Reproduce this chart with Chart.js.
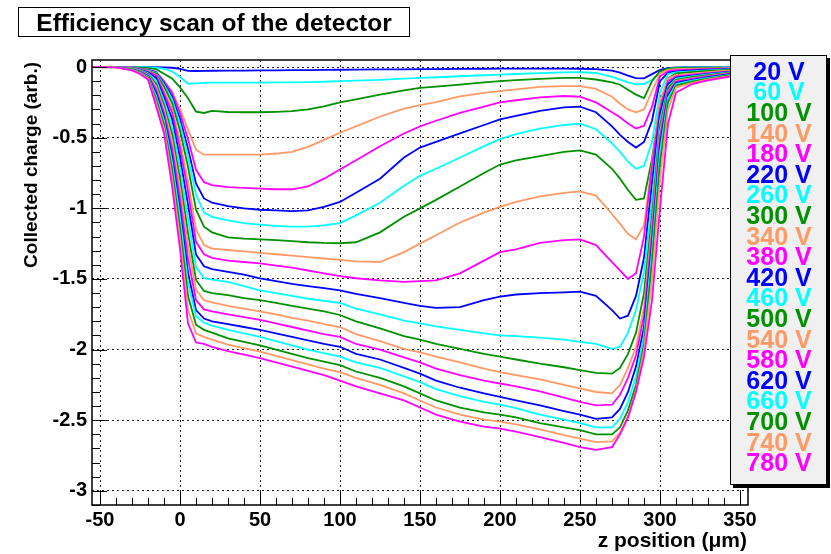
<!DOCTYPE html>
<html lang="en">
<head>
<meta charset="UTF-8">
<title>Efficiency scan of the detector</title>
<script src="https://cdn.jsdelivr.net/npm/chart.js@4"></script>
<style>
    body {
        margin: 0;
        background: #fff;
    }

    canvas {
        display: block;
    }
</style>
</head>
<body>
<canvas id="scan" width="831" height="554"></canvas>
<script>
    const zPos = [-55, -40, -30, -25, -20, -15, -10, -5, 0, 5, 10, 15,
        20, 30, 40, 50, 60, 70, 80, 90, 100, 110,
        125, 140, 150, 160, 175, 190, 200, 210, 225, 240, 250, 260,
        270, 275, 280, 285, 290, 295, 300, 305, 310, 320, 330, 340, 355];

    const voltages = [20, 60, 100, 140, 180, 220, 260, 300, 340, 380, 420, 460, 500, 540, 580, 620, 660, 700, 740, 780];

    const xTicks = [-50, 0, 50, 100, 150, 200, 250, 300, 350];
    const yTicks = [0, -0.5, -1, -1.5, -2, -2.5, -3];

    // collected charge per bias voltage
    const q20 = [0, 0, 0, 0, 0, -0.001, -0.002, -0.005, -0.013, -0.027, -0.028, -0.027,
        -0.026, -0.025, -0.025, -0.024, -0.023, -0.022, -0.021, -0.02, -0.019, -0.018,
        -0.017, -0.016, -0.015, -0.014, -0.013, -0.012, -0.011, -0.011, -0.011, -0.011, -0.012, -0.015,
        -0.025, -0.04, -0.06, -0.078, -0.08, -0.05, -0.02, -0.008, -0.003, -0.001, 0, 0, 0];
    const q60 = [0, 0, -0.001, -0.001, -0.002, -0.005, -0.012, -0.03, -0.07, -0.118, -0.115, -0.112,
        -0.11, -0.11, -0.11, -0.11, -0.109, -0.108, -0.106, -0.104, -0.1, -0.096,
        -0.09, -0.082, -0.077, -0.072, -0.065, -0.058, -0.053, -0.049, -0.043, -0.038, -0.036, -0.042,
        -0.07, -0.089, -0.108, -0.122, -0.12, -0.09, -0.04, -0.012, -0.004, -0.002, -0.002, -0.001, -0.001];
    const q100 = [0, 0, -0.001, -0.004, -0.008, -0.015, -0.047, -0.08, -0.144, -0.221, -0.315, -0.325,
        -0.31, -0.318, -0.32, -0.32, -0.317, -0.312, -0.3, -0.278, -0.25, -0.228,
        -0.195, -0.165, -0.148, -0.138, -0.124, -0.108, -0.1, -0.093, -0.083, -0.077, -0.077, -0.088,
        -0.108, -0.125, -0.16, -0.195, -0.22, -0.1, -0.03, -0.012, -0.008, -0.006, -0.005, -0.004, -0.003];
    const q140 = [0, 0, -0.003, -0.009, -0.018, -0.04, -0.099, -0.172, -0.295, -0.443, -0.585, -0.62,
        -0.62, -0.62, -0.62, -0.62, -0.612, -0.6, -0.565, -0.515, -0.465, -0.42,
        -0.35, -0.295, -0.27, -0.248, -0.207, -0.182, -0.17, -0.158, -0.14, -0.135, -0.135, -0.155,
        -0.21, -0.26, -0.3, -0.32, -0.3, -0.17, -0.045, -0.02, -0.015, -0.012, -0.0095, -0.0075, -0.005];
    const q180 = [0, 0, -0.003, -0.009, -0.019, -0.034, -0.1, -0.183, -0.325, -0.51, -0.727, -0.815,
        -0.835, -0.85, -0.855, -0.86, -0.865, -0.865, -0.845, -0.79, -0.725, -0.66,
        -0.56, -0.47, -0.42, -0.38, -0.325, -0.28, -0.25, -0.235, -0.215, -0.205, -0.21, -0.25,
        -0.32, -0.355, -0.4, -0.435, -0.415, -0.28, -0.065, -0.03, -0.022, -0.018, -0.014, -0.011, -0.0075];
    const q220 = [0, 0, -0.003, -0.01, -0.021, -0.039, -0.114, -0.207, -0.368, -0.577, -0.823, -0.93,
        -0.96, -0.985, -1.0, -1.01, -1.015, -1.02, -1.015, -0.99, -0.955, -0.89,
        -0.79, -0.64, -0.57, -0.53, -0.47, -0.41, -0.37, -0.345, -0.31, -0.285, -0.28, -0.32,
        -0.42, -0.48, -0.53, -0.57, -0.53, -0.38, -0.1, -0.04, -0.03, -0.024, -0.019, -0.015, -0.01];
    const q260 = [0, 0, -0.003, -0.011, -0.023, -0.042, -0.125, -0.227, -0.404, -0.632, -0.902, -1.03,
        -1.06, -1.085, -1.105, -1.115, -1.125, -1.13, -1.13, -1.12, -1.105, -1.05,
        -0.96, -0.84, -0.77, -0.72, -0.64, -0.56, -0.51, -0.475, -0.435, -0.41, -0.4, -0.44,
        -0.54, -0.6, -0.67, -0.72, -0.7, -0.53, -0.18, -0.05, -0.037, -0.03, -0.024, -0.019, -0.0125];
    const q300 = [0, 0, -0.004, -0.012, -0.026, -0.047, -0.139, -0.253, -0.451, -0.706, -1.01, -1.13,
        -1.17, -1.205, -1.215, -1.22, -1.225, -1.232, -1.24, -1.245, -1.247, -1.24,
        -1.17, -1.06, -1.0, -0.94, -0.845, -0.75, -0.69, -0.66, -0.63, -0.6, -0.59, -0.62,
        -0.72, -0.79, -0.87, -0.94, -0.93, -0.65, -0.26, -0.08, -0.045, -0.036, -0.028, -0.022, -0.015];
    const q340 = [0, 0, -0.005, -0.014, -0.029, -0.055, -0.166, -0.292, -0.522, -0.809, -1.147, -1.26,
        -1.285, -1.295, -1.305, -1.315, -1.325, -1.335, -1.345, -1.355, -1.365, -1.375,
        -1.38, -1.31, -1.25, -1.19, -1.1, -1.03, -0.99, -0.955, -0.915, -0.89, -0.88, -0.91,
        -1.04, -1.11, -1.18, -1.22, -1.12, -0.68, -0.24, -0.08, -0.057, -0.046, -0.036, -0.028, -0.019];
    const q380 = [0, 0, -0.005, -0.016, -0.033, -0.06, -0.186, -0.319, -0.572, -0.878, -1.237, -1.325,
        -1.35, -1.37, -1.38, -1.39, -1.405, -1.42, -1.44, -1.46, -1.48, -1.495,
        -1.51, -1.52, -1.515, -1.51, -1.46, -1.37, -1.31, -1.29, -1.245, -1.225, -1.22, -1.26,
        -1.38, -1.44, -1.5, -1.46, -1.2, -0.7, -0.3, -0.1, -0.067, -0.054, -0.043, -0.034, -0.022];
    const q420 = [0, 0, -0.007, -0.019, -0.038, -0.077, -0.212, -0.366, -0.641, -0.972, -1.326, -1.41,
        -1.43, -1.45, -1.47, -1.495, -1.515, -1.535, -1.55, -1.565, -1.58, -1.605,
        -1.635, -1.67, -1.69, -1.705, -1.7, -1.65, -1.625, -1.61, -1.6, -1.595, -1.59, -1.62,
        -1.72, -1.78, -1.76, -1.62, -1.35, -0.82, -0.33, -0.12, -0.075, -0.06, -0.048, -0.037, -0.025];
    const q460 = [0, -0.001, -0.008, -0.022, -0.044, -0.096, -0.24, -0.417, -0.714, -1.071, -1.416, -1.495,
        -1.505, -1.52, -1.55, -1.58, -1.6, -1.62, -1.64, -1.655, -1.67, -1.71,
        -1.75, -1.795, -1.815, -1.835, -1.86, -1.885, -1.9, -1.905, -1.915, -1.93, -1.945, -1.96,
        -1.995, -1.98, -1.88, -1.72, -1.45, -0.95, -0.38, -0.14, -0.082, -0.066, -0.052, -0.041, -0.027];
    const q500 = [0, -0.001, -0.01, -0.025, -0.049, -0.117, -0.269, -0.471, -0.791, -1.174, -1.507, -1.585,
        -1.6, -1.615, -1.635, -1.65, -1.67, -1.69, -1.71, -1.73, -1.755, -1.8,
        -1.85, -1.905, -1.93, -1.96, -1.995, -2.03, -2.05, -2.07, -2.1, -2.125, -2.145, -2.165,
        -2.17, -2.13, -2.03, -1.88, -1.6, -1.05, -0.42, -0.15, -0.09, -0.072, -0.057, -0.045, -0.03];
    const q540 = [0, -0.001, -0.012, -0.028, -0.054, -0.137, -0.296, -0.52, -0.859, -1.263, -1.576, -1.65,
        -1.665, -1.69, -1.71, -1.73, -1.75, -1.775, -1.795, -1.82, -1.84, -1.89,
        -1.94, -1.995, -2.02, -2.05, -2.09, -2.135, -2.16, -2.18, -2.21, -2.25, -2.275, -2.3,
        -2.31, -2.25, -2.13, -1.98, -1.7, -1.12, -0.46, -0.17, -0.097, -0.078, -0.062, -0.049, -0.032];
    const q580 = [0, -0.001, -0.014, -0.032, -0.06, -0.158, -0.325, -0.573, -0.932, -1.359, -1.65, -1.715,
        -1.73, -1.75, -1.77, -1.79, -1.815, -1.84, -1.865, -1.89, -1.91, -1.96,
        -2.0, -2.055, -2.09, -2.135, -2.18, -2.22, -2.24, -2.26, -2.295, -2.34, -2.37, -2.395,
        -2.39, -2.32, -2.2, -2.04, -1.76, -1.18, -0.5, -0.18, -0.105, -0.084, -0.066, -0.052, -0.035];
    const q620 = [0, -0.001, -0.016, -0.035, -0.065, -0.181, -0.354, -0.627, -1.005, -1.455, -1.72, -1.78,
        -1.8, -1.82, -1.84, -1.86, -1.885, -1.91, -1.935, -1.96, -1.98, -2.03,
        -2.07, -2.13, -2.17, -2.22, -2.27, -2.31, -2.335, -2.36, -2.395, -2.435, -2.46, -2.49,
        -2.48, -2.42, -2.3, -2.12, -1.84, -1.25, -0.55, -0.2, -0.112, -0.09, -0.071, -0.056, -0.037];
    const q660 = [0, -0.001, -0.017, -0.038, -0.07, -0.201, -0.378, -0.671, -1.064, -1.528, -1.762, -1.81,
        -1.83, -1.86, -1.885, -1.91, -1.94, -1.97, -2.0, -2.025, -2.05, -2.09,
        -2.13, -2.19, -2.23, -2.28, -2.33, -2.37, -2.39, -2.415, -2.46, -2.495, -2.52, -2.55,
        -2.55, -2.49, -2.37, -2.19, -1.9, -1.3, -0.6, -0.22, -0.12, -0.096, -0.076, -0.06, -0.04];
    const q700 = [0, -0.002, -0.019, -0.041, -0.076, -0.224, -0.407, -0.725, -1.136, -1.621, -1.824, -1.86,
        -1.88, -1.92, -1.945, -1.97, -2.0, -2.03, -2.06, -2.085, -2.11, -2.155,
        -2.2, -2.26, -2.31, -2.36, -2.41, -2.445, -2.46, -2.48, -2.52, -2.55, -2.57, -2.6,
        -2.6, -2.55, -2.43, -2.25, -1.96, -1.38, -0.68, -0.25, -0.13, -0.103, -0.082, -0.064, -0.043];
    const q740 = [0, -0.002, -0.021, -0.045, -0.082, -0.248, -0.437, -0.781, -1.21, -1.716, -1.887, -1.91,
        -1.93, -1.965, -1.99, -2.015, -2.045, -2.075, -2.105, -2.135, -2.16, -2.2,
        -2.25, -2.31, -2.36, -2.41, -2.46, -2.495, -2.51, -2.53, -2.565, -2.605, -2.63, -2.655,
        -2.65, -2.59, -2.47, -2.29, -2.0, -1.5, -0.8, -0.3, -0.145, -0.112, -0.088, -0.07, -0.046];
    const q780 = [0, -0.002, -0.023, -0.049, -0.088, -0.273, -0.468, -0.839, -1.287, -1.814, -1.95, -1.96,
        -1.98, -2.01, -2.035, -2.06, -2.09, -2.12, -2.15, -2.18, -2.22, -2.26,
        -2.31, -2.36, -2.41, -2.46, -2.51, -2.545, -2.56, -2.58, -2.62, -2.66, -2.69, -2.71,
        -2.69, -2.6, -2.48, -2.3, -2.05, -1.65, -1.0, -0.4, -0.18, -0.12, -0.095, -0.075, -0.05];

    const charges = [q20, q60, q100, q140, q180, q220, q260, q300, q340, q380,
        q420, q460, q500, q540, q580, q620, q660, q700, q740, q780];

    // ROOT-ish colours: blue, cyan, green, orange, magenta
    const palette = ['#0000ff', '#00ffff', '#009100', '#ff9966', '#ff00ff'];
    const FONT = "'Liberation Sans', Arial, Helvetica, sans-serif";

    const datasets = voltages.map((v, i) => ({
        label: v + ' V',
        data: zPos.map((z, j) => ({ x: z, y: charges[i][j] })),
        borderColor: palette[i % palette.length],
        borderWidth: 1.8,
        pointRadius: 0,
        tension: 0,
        fill: false,
        order: voltages.length - i   // last one ends up on top, like ROOT
    }));

    // frame, inner ticks, title box, axis titles and the legend box
    const rootLook = {
        id: 'rootLook',
        beforeDraw(chart) {
            const ctx = chart.ctx;
            ctx.save();
            ctx.fillStyle = '#fff';
            ctx.fillRect(0, 0, chart.width, chart.height);
            ctx.restore();
        },
        afterDatasetsDraw(chart) {
            const ctx = chart.ctx;
            const a = chart.chartArea;
            const xs = chart.scales.x;
            const ys = chart.scales.y;
            ctx.save();
            ctx.strokeStyle = '#000';
            ctx.lineWidth = 1;

            // x ticks, every 10, major every 50
            for (let v = -50; v <= 350; v += 10) {
                const px = Math.round(xs.getPixelForValue(v)) + 0.5;
                const len = v % 50 === 0 ? 13 : 7;
                ctx.beginPath();
                ctx.moveTo(px, a.bottom);
                ctx.lineTo(px, a.bottom - len);
                ctx.stroke();
            }
            // y ticks, every 0.1, major every 0.5
            for (let k = 0; k <= 31; k++) {
                const v = -k / 10;
                const py = Math.round(ys.getPixelForValue(v)) + 0.5;
                const len = k % 5 === 0 ? 15 : 8;
                ctx.beginPath();
                ctx.moveTo(a.left, py);
                ctx.lineTo(a.left + len, py);
                ctx.stroke();
            }

            ctx.lineWidth = 1.5;
            ctx.strokeRect(a.left, a.top, a.right - a.left, a.bottom - a.top);
            ctx.restore();
        },
        afterDraw(chart) {
            const ctx = chart.ctx;
            ctx.save();

            // title box
            ctx.fillStyle = '#fff';
            ctx.fillRect(18, 7, 392, 30);
            ctx.strokeStyle = '#000';
            ctx.lineWidth = 1;
            ctx.strokeRect(18.5, 7.5, 391, 29);
            ctx.fillStyle = '#000';
            ctx.font = 'bold 24.5px ' + FONT;
            ctx.textAlign = 'center';
            ctx.textBaseline = 'alphabetic';
            ctx.fillText('Efficiency scan of the detector', 214, 31);

            // y axis title, aligned to the top end of the axis
            ctx.save();
            ctx.translate(32, 62);
            ctx.rotate(-Math.PI / 2);
            ctx.font = 'bold 19px ' + FONT;
            ctx.textAlign = 'right';
            ctx.textBaseline = 'middle';
            ctx.fillText('Collected charge (arb.)', 0, 0);
            ctx.restore();

            // x axis title, aligned to the right end
            ctx.font = 'bold 21px ' + FONT;
            ctx.textAlign = 'right';
            ctx.textBaseline = 'middle';
            ctx.fillText('z position (\u03bcm)', 747, 541);

            // legend with shadow
            ctx.fillStyle = '#000';
            ctx.fillRect(733, 58, 97, 430);
            ctx.fillStyle = '#f0f0f0';
            ctx.fillRect(730, 55, 97, 430);
            ctx.strokeRect(730.5, 55.5, 96, 429);
            ctx.font = 'bold 25px ' + FONT;
            ctx.textAlign = 'center';
            ctx.textBaseline = 'middle';
            chart.data.datasets.forEach((ds, i) => {
                ctx.fillStyle = ds.borderColor;
                ctx.fillText(ds.label, 779, 73 + i * 20.6);
            });
            ctx.restore();
        }
    };

    new Chart(document.getElementById('scan'), {
        type: 'line',
        data: { datasets: datasets },
        options: {
            responsive: false,
            animation: false,
            layout: { padding: { left: 0, top: 60, right: 83, bottom: 0 } },
            plugins: {
                legend: { display: false },
                tooltip: { enabled: false }
            },
            scales: {
                x: {
                    type: 'linear',
                    min: -55,
                    max: 355,
                    afterBuildTicks: (s) => { s.ticks = xTicks.map(v => ({ value: v })); },
                    afterFit: (s) => { s.height = 49; },
                    grid: { color: '#222', lineWidth: 1, drawTicks: false },
                    border: { display: false, dash: [2, 3] },
                    ticks: {
                        autoSkip: false,
                        maxRotation: 0,
                        padding: 3,
                        color: '#000',
                        font: { family: FONT, size: 20, weight: 'bold' },
                        callback: (v) => String(v)
                    }
                },
                y: {
                    type: 'linear',
                    min: -3.1,
                    max: 0.05,
                    afterBuildTicks: (s) => { s.ticks = yTicks.map(v => ({ value: v })); },
                    afterFit: (s) => { s.width = 92; },
                    grid: { color: '#222', lineWidth: 1, drawTicks: false },
                    border: { display: false, dash: [2, 3] },
                    ticks: {
                        autoSkip: false,
                        padding: 5,
                        color: '#000',
                        font: { family: FONT, size: 20, weight: 'bold' },
                        callback: (v) => String(v)
                    }
                }
            }
        },
        plugins: [rootLook]
    });
</script>
</body>
</html>
